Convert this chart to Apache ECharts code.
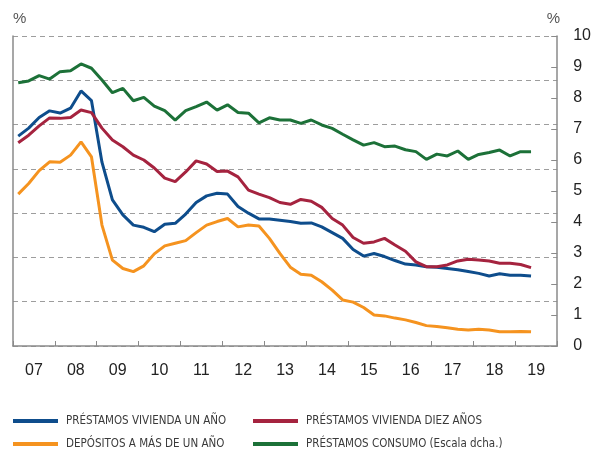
<!DOCTYPE html>
<html>
<head>
<meta charset="utf-8">
<script src="https://cdn.jsdelivr.net/npm/echarts@6/dist/echarts.min.js"></script>
<style>
  html, body { margin: 0; padding: 0; background: #fff; }
  #chart { width: 594px; height: 450px; }
</style>
</head>
<body>
<div id="chart"></div>
<script>
// datos trimestrales, 2007T1 - 2019T2
const startYear = 2007;
const yearLabels = ["07", "08", "09", "10", "11", "12", "13", "14", "15", "16", "17", "18", "19"];

// escala izquierda
const viviendaUnAno = [
  4.74, 4.92, 5.16, 5.31, 5.26, 5.37, 5.76, 5.54, 4.15, 3.3, 2.96, 2.73, 2.68,
  2.58, 2.75, 2.77, 2.98, 3.24, 3.39, 3.45, 3.43, 3.15, 3.0, 2.87, 2.87, 2.84,
  2.81, 2.77, 2.78, 2.69, 2.56, 2.43, 2.18, 2.03, 2.09, 2.02, 1.93, 1.85, 1.83,
  1.79, 1.78, 1.75, 1.72, 1.68, 1.64, 1.58, 1.63, 1.6, 1.6, 1.58,
];
const viviendaDiezAnos = [
  4.59, 4.76, 4.97, 5.15, 5.14, 5.16, 5.33, 5.27, 4.92, 4.65, 4.5, 4.31, 4.2,
  4.02, 3.79, 3.71, 3.93, 4.18, 4.11, 3.94, 3.95, 3.82, 3.52, 3.43, 3.35, 3.24,
  3.2, 3.31, 3.27, 3.13, 2.88, 2.73, 2.45, 2.32, 2.35, 2.43, 2.28, 2.14, 1.9,
  1.79, 1.79, 1.83, 1.92, 1.96, 1.94, 1.92, 1.87, 1.87, 1.84, 1.77,
];
const depositos = [
  3.43, 3.67, 3.96, 4.16, 4.15, 4.31, 4.61, 4.27, 2.73, 1.94, 1.75, 1.68, 1.81,
  2.08, 2.26, 2.32, 2.38, 2.56, 2.73, 2.81, 2.88, 2.69, 2.73, 2.71, 2.43, 2.09,
  1.78, 1.62, 1.6, 1.45, 1.26, 1.04, 0.99, 0.87, 0.7, 0.68, 0.63, 0.59, 0.53,
  0.46, 0.44, 0.41, 0.38, 0.36, 0.38, 0.36, 0.32, 0.32, 0.33, 0.32,
];
// escala derecha
const consumo = [
  8.49, 8.55, 8.72, 8.61, 8.85, 8.88, 9.1, 8.96, 8.58, 8.17, 8.31, 7.91, 8.02,
  7.74, 7.59, 7.29, 7.59, 7.72, 7.87, 7.61, 7.78, 7.53, 7.51, 7.2, 7.36, 7.29,
  7.29, 7.18, 7.29, 7.13, 7.02, 6.83, 6.65, 6.48, 6.56, 6.43, 6.45, 6.33, 6.27,
  6.02, 6.19, 6.13, 6.29, 6.02, 6.18, 6.24, 6.32, 6.13, 6.27, 6.27,
];

const toPoints = (arr) => arr.map((v, i) => [startYear + (i + 0.5) / 4, v]);

const gridColor = "#9d9d9d";
const axisColor = "#8a8a8a";

const chart = echarts.init(document.getElementById("chart"));

// una leyenda por serie, para colocarlas en dos columnas
const makeLegend = (name, left, top) => ({
  orient: "horizontal",
  left: left,
  top: top,
  padding: 0,
  itemWidth: 45,
  itemHeight: 4,
  icon: "rect",
  data: [name],
  textStyle: {
    fontFamily: "'Liberation Sans Narrow', 'DejaVu Sans Condensed', 'Liberation Sans', sans-serif",
    fontSize: 11.5,
    color: "#3a3a3a",
    padding: [0, 0, 0, 3],
  },
});

const makeLine = (name, data, color, yAxisIndex) => ({
  name: name,
  type: "line",
  xAxisIndex: 0,
  yAxisIndex: yAxisIndex,
  data: toPoints(data),
  showSymbol: false,
  symbol: "none",
  lineStyle: { color: color, width: 3 },
  itemStyle: { color: color },
});

chart.setOption({
  animation: false,
  grid: { left: 13, right: 35, top: 36, bottom: 104 },
  legend: [
    makeLegend("PRÉSTAMOS VIVIENDA UN AÑO", 13, 415),
    makeLegend("DEPÓSITOS A MÁS DE UN AÑO", 13, 438),
    makeLegend("PRÉSTAMOS VIVIENDA DIEZ AÑOS", 253, 415),
    makeLegend("PRÉSTAMOS CONSUMO (Escala dcha.)", 253, 438),
  ],
  xAxis: [
    {
      type: "value",
      min: 2007,
      max: 2020,
      interval: 1,
      axisLine: { show: true, lineStyle: { color: axisColor, width: 1.5 } },
      axisTick: { show: true, inside: true, length: 5, lineStyle: { color: axisColor } },
      axisLabel: { show: false },
      splitLine: { show: false },
    },
    {
      type: "category",
      position: "bottom",
      data: yearLabels,
      boundaryGap: true,
      axisLine: { show: false },
      axisTick: { show: false },
      axisLabel: {
        margin: 17,
        fontFamily: "'Liberation Sans', Arial, sans-serif",
        fontSize: 16,
        color: "#222",
      },
    },
  ],
  yAxis: [
    {
      type: "value",
      min: 0,
      max: 7,
      interval: 1,
      name: "%",
      nameLocation: "end",
      nameGap: 10,
      nameTextStyle: {
        align: "left",
        fontFamily: "'Liberation Sans', Arial, sans-serif",
        fontSize: 15,
        color: "#555",
      },
      axisLine: { show: true, lineStyle: { color: axisColor, width: 1.5 } },
      axisTick: { show: false },
      axisLabel: { show: false },
      splitLine: { show: true, lineStyle: { color: gridColor, type: [5, 4], width: 1 } },
    },
    {
      type: "value",
      position: "right",
      min: 0,
      max: 10,
      interval: 1,
      name: "%",
      nameLocation: "end",
      nameGap: 10,
      nameTextStyle: {
        align: "right",
        padding: [0, -3, 0, 0],
        fontFamily: "'Liberation Sans', Arial, sans-serif",
        fontSize: 15,
        color: "#555",
      },
      axisLine: { show: true, lineStyle: { color: axisColor, width: 1.5 } },
      axisTick: { show: true, inside: true, length: 6, lineStyle: { color: axisColor } },
      axisLabel: {
        margin: 16,
        align: "left",
        fontFamily: "'Liberation Sans', Arial, sans-serif",
        fontSize: 16,
        color: "#222",
      },
      splitLine: { show: false },
    },
  ],
  series: [
    makeLine("PRÉSTAMOS VIVIENDA UN AÑO", viviendaUnAno, "#0e4d8c", 0),
    makeLine("PRÉSTAMOS VIVIENDA DIEZ AÑOS", viviendaDiezAnos, "#a5233f", 0),
    makeLine("DEPÓSITOS A MÁS DE UN AÑO", depositos, "#f5931f", 0),
    makeLine("PRÉSTAMOS CONSUMO (Escala dcha.)", consumo, "#1c7138", 1),
  ],
});
</script>
</body>
</html>
